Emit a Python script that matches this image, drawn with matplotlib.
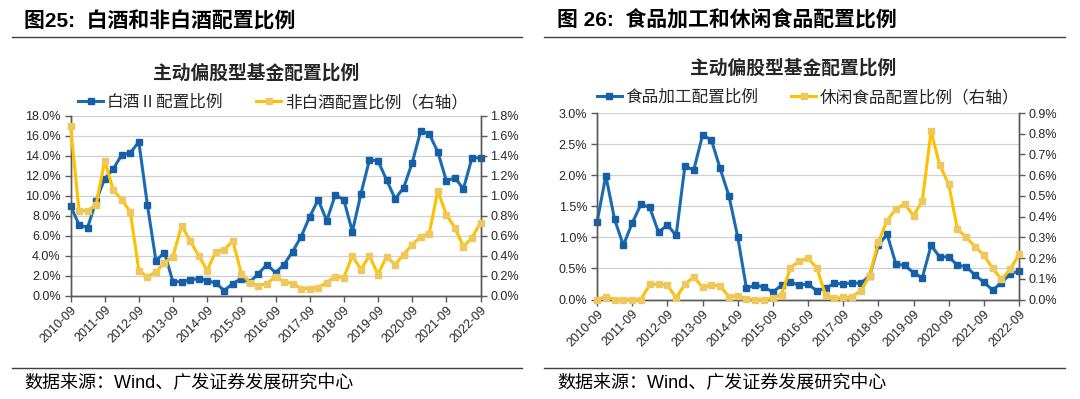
import matplotlib
matplotlib.use("Agg")
import matplotlib.pyplot as plt
from matplotlib.lines import Line2D

plt.rcParams['font.family'] = ['Liberation Sans', 'Noto Sans CJK SC']

W, H = 1080, 399

# quarterly, 2010-09 .. 2022-09
years = list(range(2010, 2023))
tick_labels = [f"{y}-09" for y in years]

# 图25 (%)
baijiu = [9.0, 7.1, 6.8, 9.5, 11.7, 12.7, 14.1, 14.3, 15.4, 9.1, 3.5, 4.3, 1.35, 1.4,
          1.55, 1.7, 1.5, 1.25, 0.5, 1.2, 1.7, 1.35, 2.2, 3.1, 2.3, 3.1, 4.4, 5.9, 7.9,
          9.6, 7.5, 10.1, 9.6, 6.4, 10.2, 13.6, 13.5, 11.6, 9.7, 10.8, 13.3, 16.5, 16.2,
          14.4, 11.5, 11.8, 10.7, 13.8, 13.8]
fei_baijiu = [1.70, 0.85, 0.85, 0.91, 1.35, 1.06, 0.96, 0.84, 0.25, 0.19, 0.235, 0.33,
              0.39, 0.70, 0.55, 0.40, 0.25, 0.44, 0.46, 0.55, 0.22, 0.13, 0.10, 0.12,
              0.19, 0.14, 0.12, 0.07, 0.07, 0.08, 0.13, 0.19, 0.18, 0.40, 0.26, 0.40,
              0.21, 0.39, 0.31, 0.41, 0.51, 0.59, 0.62, 1.05, 0.81, 0.68, 0.49, 0.58, 0.73]

# 图26 (%)
shipin = [1.24, 1.99, 1.29, 0.87, 1.23, 1.53, 1.48, 1.08, 1.20, 1.03, 2.15, 2.08, 2.64,
          2.57, 2.11, 1.67, 1.01, 0.18, 0.23, 0.20, 0.12, 0.23, 0.28, 0.23, 0.25, 0.14,
          0.18, 0.26, 0.25, 0.27, 0.26, 0.38, 0.87, 1.05, 0.57, 0.55, 0.43, 0.35, 0.87,
          0.68, 0.69, 0.55, 0.53, 0.39, 0.28, 0.15, 0.27, 0.41, 0.46]
xiuxian = [0.0, 0.013, 0.0, 0.0, 0.0, 0.0, 0.073, 0.073, 0.07, 0.008, 0.073, 0.11, 0.058,
           0.07, 0.066, 0.013, 0.018, 0.003, 0.0, 0.0, 0.005, 0.024, 0.153, 0.185, 0.198,
           0.153, 0.021, 0.005, 0.01, 0.013, 0.042, 0.115, 0.276, 0.381, 0.437, 0.461,
           0.405, 0.476, 0.811, 0.647, 0.556, 0.339, 0.300, 0.255, 0.215, 0.150, 0.098,
           0.145, 0.218]

BLUE = '#1B6BB3'
BLUE_MK = '#165FA6'
YELLOW = '#FFC000'
YELLOW_MK = '#EEC75E'
AXIS = '#595959'
GRID = '#D0D0D0'


def px_rect(left, top, right, bottom):
    return [left / W, 1 - bottom / H, (right - left) / W, (bottom - top) / H]


def hline(fig, x0, x1, y):
    fig.add_artist(Line2D([x0 / W, x1 / W], [1 - y / H, 1 - y / H],
                          color='#404040', lw=1.0, transform=fig.transFigure))


def panel(fig, rect, left_vals, right_vals, left_max, left_step, right_max, right_step,
          labels, legend_xy, title_xy, head, head_xy, rule_x):
    ax = fig.add_axes(px_rect(*rect))
    ax2 = ax.twinx()
    x = list(range(len(left_vals)))

    l1, = ax.plot(x, left_vals, color=BLUE, lw=2.2, marker='s', ms=4.2,
                  mfc=BLUE_MK, mec=BLUE_MK, clip_on=False, zorder=3)
    l2, = ax2.plot(x, right_vals, color=YELLOW, lw=2.2, marker='s', ms=4.2,
                   mfc=YELLOW_MK, mec=YELLOW_MK, clip_on=False, zorder=3)

    n_left = int(round(left_max / left_step))
    ax.set_ylim(0, left_max)
    ax.set_yticks([i * left_step for i in range(n_left + 1)])
    ax.set_yticklabels([f"{i * left_step:.1f}%" for i in range(n_left + 1)])
    n_right = int(round(right_max / right_step))
    ax2.set_ylim(0, right_max)
    ax2.set_yticks([i * right_step for i in range(n_right + 1)])
    ax2.set_yticklabels([f"{i * right_step:.1f}%" for i in range(n_right + 1)])

    ax.set_xlim(0, len(left_vals) - 1)
    ax.set_xticks(list(range(0, len(left_vals), 4)))
    ax.set_xticklabels(labels, rotation=45, ha='right', rotation_mode='anchor')

    ax.grid(axis='y', color=GRID, lw=0.9)
    ax.set_axisbelow(True)
    for a in (ax, ax2):
        a.spines['top'].set_visible(False)
        for s in ('left', 'right', 'bottom'):
            a.spines[s].set_color(AXIS)
            a.spines[s].set_linewidth(1.0)
        a.tick_params(colors=AXIS, labelcolor='#262626', labelsize=9, length=4, width=1.0,
                      direction='out', pad=3)
    ax.tick_params(axis='x', labelsize=9, pad=2)
    ax2.set_zorder(ax.get_zorder() + 1)

    leg = fig.legend([l1, l2], labels_legend[head], loc='center',
                     bbox_to_anchor=(legend_xy[0] / W, 1 - legend_xy[1] / H),
                     ncol=2, frameon=False, fontsize=12, handlelength=1.5,
                     handletextpad=0.2, columnspacing=2.0, borderaxespad=0)
    for t in leg.get_texts():
        t.set_color('#262626')

    fig.text(title_xy[0] / W, 1 - title_xy[1] / H, "主动偏股型基金配置比例",
             ha='center', va='center', fontsize=13.5, fontweight='bold', color='#262626')
    fig.text(head_xy[0] / W, 1 - head_xy[1] / H, head, ha='left', va='center',
             fontsize=15, fontweight='bold', color='black')
    fig.text(head_xy[0] / W, 1 - 384 / H, "数据来源：Wind、广发证券发展研究中心",
             ha='left', va='center', fontsize=13, color='black')
    hline(fig, rule_x[0], rule_x[1], 37)
    hline(fig, rule_x[0], rule_x[1], 367.5)


labels_legend = {
    "图25:  白酒和非白酒配置比例": ["白酒Ⅱ配置比例", "非白酒配置比例（右轴）"],
    "图 26:  食品加工和休闲食品配置比例": ["食品加工配置比例", "休闲食品配置比例（右轴）"],
}

fig = plt.figure(figsize=(W / 100, H / 100), dpi=100)

panel(fig, (70.5, 116, 480.5, 295.5), baijiu, fei_baijiu, 18.0, 2.0, 1.8, 0.2,
      tick_labels, (273, 102), (256, 73), "图25:  白酒和非白酒配置比例", (24, 21), (12, 522))
panel(fig, (597, 113, 1019, 299.5), shipin, xiuxian, 3.0, 0.5, 0.9, 0.1,
      tick_labels, (808, 97), (793, 68), "图 26:  食品加工和休闲食品配置比例", (557, 20),
      (544, 1065))

fig.savefig("out.png", dpi=100)
